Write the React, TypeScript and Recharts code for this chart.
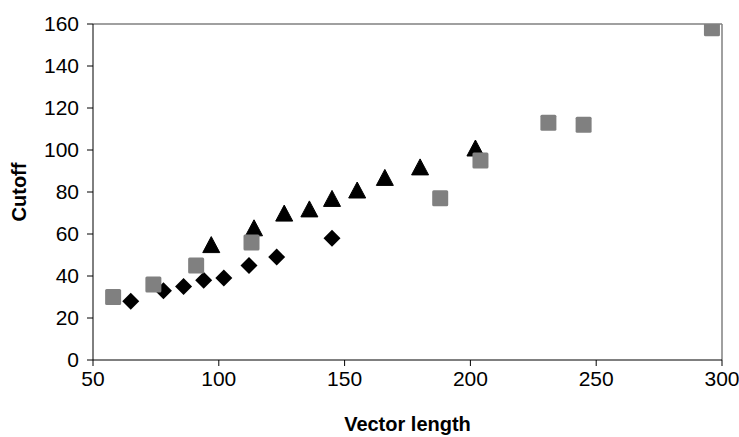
import {
  ReferenceLine,
  Scatter,
  ScatterChart,
  XAxis,
  YAxis,
} from "recharts";

const xTicks = [50, 100, 150, 200, 250, 300];
const yTicks = [0, 20, 40, 60, 80, 100, 120, 140, 160];

const diamondX = [65, 78, 86, 94, 102, 112, 123, 145];
const diamondY = [28, 33, 35, 38, 39, 45, 49, 58];

const triangleX = [97, 114, 126, 136, 145, 155, 166, 180, 202];
const triangleY = [54, 62, 69, 71, 76, 80, 86, 91, 100];

const squareX = [58, 74, 91, 113, 188, 204, 231, 245, 296];
const squareY = [30, 36, 45, 56, 77, 95, 113, 112, 158];

const toPoints = (xs: number[], ys: number[]) =>
  xs.map((x, i) => ({ x, y: ys[i] }));

const font = "'Liberation Sans', Arial, sans-serif";

function Diamond(props: any) {
  const { cx, cy } = props;
  const r = 8.5;
  return (
    <polygon
      points={`${cx},${cy - r} ${cx + r},${cy} ${cx},${cy + r} ${cx - r},${cy}`}
      fill="#000"
    />
  );
}

function Triangle(props: any) {
  const { cx, cy } = props;
  return (
    <polygon
      points={`${cx},${cy - 10} ${cx + 8.5},${cy + 6} ${cx - 8.5},${cy + 6}`}
      fill="#000"
      strokeLinejoin="round"
      stroke="#000"
      strokeWidth={1}
    />
  );
}

function Square(props: any) {
  const { cx, cy } = props;
  return (
    <rect x={cx - 8} y={cy - 8} width={16} height={16} rx={1.5} fill="#808080" />
  );
}

export default function App() {
  return (
    <div style={{ position: "absolute", left: 0, top: 0, background: "#fff" }}>
      <ScatterChart
        width={739}
        height={437}
        margin={{ top: 24, right: 17, bottom: 0, left: 33 }}
      >
        <XAxis
          type="number"
          dataKey="x"
          domain={[50, 300]}
          ticks={xTicks}
          allowDataOverflow
          stroke="#000"
          tickSize={6}
          tickMargin={5}
          height={77}
          tick={{ fill: "#000", fontSize: 21, fontFamily: font }}
          label={{
            value: "Vector length",
            position: "insideBottom",
            offset: 6,
            fill: "#000",
            fontSize: 20,
            fontWeight: 700,
            fontFamily: font,
          }}
        />
        <YAxis
          type="number"
          dataKey="y"
          domain={[0, 160]}
          ticks={yTicks}
          allowDataOverflow
          stroke="#000"
          tickSize={6}
          tickMargin={8}
          width={60}
          tick={{ fill: "#000", fontSize: 21, fontFamily: font }}
          label={{
            value: "Cutoff",
            angle: -90,
            position: "insideLeft",
            offset: -14,
            fill: "#000",
            fontSize: 20,
            fontWeight: 700,
            fontFamily: font,
            style: { textAnchor: "middle" },
          }}
        />
        <ReferenceLine y={160} stroke="#808080" strokeWidth={1.5} />
        <ReferenceLine x={300} stroke="#808080" strokeWidth={1.5} />
        <Scatter
          data={toPoints(diamondX, diamondY)}
          shape={Diamond}
          isAnimationActive={false}
        />
        <Scatter
          data={toPoints(triangleX, triangleY)}
          shape={Triangle}
          isAnimationActive={false}
        />
        <Scatter
          data={toPoints(squareX, squareY)}
          shape={Square}
          isAnimationActive={false}
        />
      </ScatterChart>
    </div>
  );
}
